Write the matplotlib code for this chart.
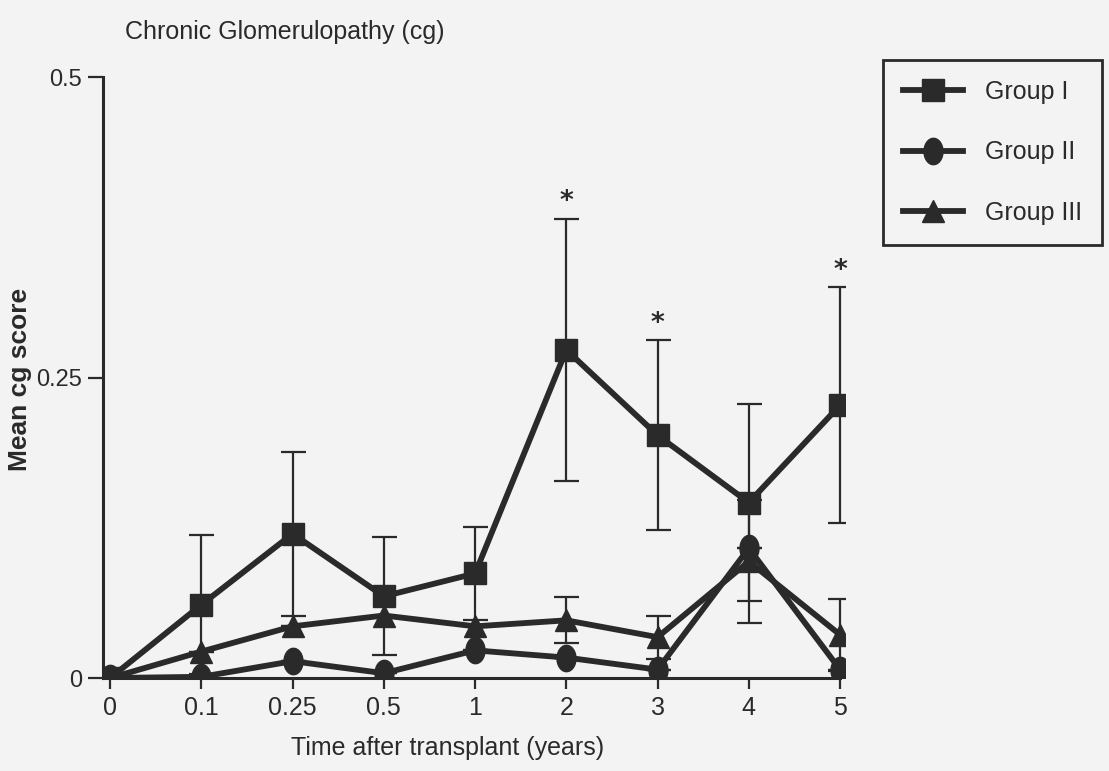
import matplotlib
matplotlib.use("Agg")
import matplotlib.pyplot as plt
import numpy as np

# time points (categorical, evenly spaced on the axis)
times = ["0", "0.1", "0.25", "0.5", "1", "2", "3", "4", "5"]

# mean cg score per group
group1 = [0.0, 0.061, 0.120, 0.068, 0.087, 0.273, 0.202, 0.146, 0.227]
group2 = [0.0, 0.001, 0.014, 0.004, 0.023, 0.017, 0.007, 0.108, 0.007]
group3 = [0.0, 0.022, 0.043, 0.052, 0.043, 0.048, 0.034, 0.097, 0.036]

# error bars (SD)
err1 = [0.0, 0.058, 0.068, 0.049, 0.039, 0.109, 0.079, 0.082, 0.098]
err2 = [0.0, 0.0, 0.0, 0.0, 0.0, 0.0, 0.0, 0.0, 0.0]
err3 = [0.0, 0.0, 0.0, 0.0, 0.0, 0.019, 0.018, 0.051, 0.030]

# significance marks (index of time point, on group I)
star_idx = [5, 6, 8]

plt.rcParams['font.family'] = ['Liberation Sans', 'DejaVu Sans']

# tall ellipse marker, the scanned circles look stretched
t = np.linspace(0, 2 * np.pi, 40)
ellipse = np.column_stack([0.72 * np.cos(t), np.sin(t)])

fig = plt.figure(figsize=(11.09, 7.71), dpi=100, facecolor='#f3f3f3')
ax = fig.add_axes([0.093, 0.1206, 0.669, 0.7794])
ax.set_facecolor('#f3f3f3')

x = np.arange(len(times))
ink = '#2a2a2a'

styles = [
    (group1, err1, 's', 16, 'Group I'),
    (group2, err2, ellipse, 19, 'Group II'),
    (group3, err3, '^', 16, 'Group III'),
]
for vals, errs, mk, ms, lab in styles:
    ax.errorbar(x, vals, yerr=errs, fmt='none', ecolor=ink, elinewidth=1.6,
                capsize=9, capthick=1.6, zorder=2)
    ax.plot(x, vals, color=ink, lw=4.2, marker=mk, markersize=ms,
            markerfacecolor=ink, markeredgecolor=ink, label=lab, zorder=3)

for i in star_idx:
    ax.text(x[i], group1[i] + err1[i] + 0.003, '*', ha='center', va='bottom',
            fontsize=19, fontweight='bold', color=ink, family='DejaVu Sans')

ax.set_xlim(-0.077, 8.055)
ax.set_ylim(0, 0.5)
ax.set_xticks(x)
ax.set_xticklabels(times)
ax.set_yticks([0, 0.25, 0.5])
ax.set_yticklabels(['0', '0.25', '0.5'])

for s in ['top', 'right']:
    ax.spines[s].set_visible(False)
for s in ['left', 'bottom']:
    ax.spines[s].set_linewidth(2.2)
    ax.spines[s].set_color(ink)
ax.spines['bottom'].set_bounds(-0.077, 8.0)
ax.tick_params(axis='both', colors=ink, width=1.6)
ax.tick_params(axis='x', length=8, pad=5, labelsize=18)
ax.tick_params(axis='y', length=11, pad=4, labelsize=17)

ax.set_xlabel('Time after transplant (years)', fontsize=18, color=ink, va='center')
ax.xaxis.set_label_coords(0.464, -0.116)
fig.text(0.018, 0.508, 'Mean cg score', fontsize=19, fontweight='bold',
         color=ink, rotation=90, ha='center', va='center')

fig.text(0.113, 0.958, 'Chronic Glomerulopathy (cg)', fontsize=18, color=ink,
         ha='left', va='center')

leg = ax.legend(loc='upper left', bbox_to_anchor=(0.796, 0.922),
                bbox_transform=fig.transFigure, frameon=True,
                fancybox=False, fontsize=18, handlelength=2.4, borderpad=0.8,
                labelspacing=1.45, handletextpad=0.9, borderaxespad=0)
leg.get_frame().set_edgecolor(ink)
leg.get_frame().set_linewidth(2)
leg.get_frame().set_facecolor('#f3f3f3')
leg.get_frame().set_alpha(1)
for txt in leg.get_texts():
    txt.set_color(ink)

fig.savefig('out.png', dpi=100, facecolor=fig.get_facecolor())
